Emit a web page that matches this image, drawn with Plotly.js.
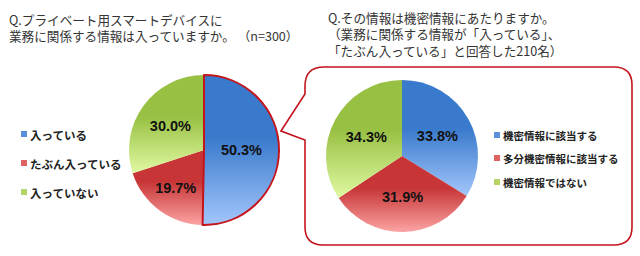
<!DOCTYPE html>
<html>
<head>
<meta charset="utf-8">
<script src="https://cdn.plot.ly/plotly-3.0.1.min.js"></script>
<style>html,body{margin:0;padding:0;background:#fff;}#chart{width:640px;height:256px;}</style>
</head>
<body>
<div id="chart"></div>
<script>
// ---- data ----
const leftLabels = ['入っている', 'たぶん入っている', '入っていない'];
const leftValues = [50.3, 19.7, 30.0];
const rightLabels = ['機密情報に該当する', '多分機密情報に該当する', '機密情報ではない'];
const rightValues = [33.8, 31.9, 34.3];
const leftTitle = ['Q.プライベート用スマートデバイスに', '業務に関係する情報は入っていますか。 （n=300）'];
const rightTitle = ['Q.その情報は機密情報にあたりますか。', '（業務に関係する情報が「入っている」、', '「たぶん入っている」と回答した210名）'];

// ---- styling ----
const W = 640, H = 256;
const sliceColors = ['#5a8fdc', '#de6262', '#b5d465'];
const gradStops = [['#3a7acc', '#a3c6fb'], ['#c73536', '#fca3a3'], ['#98c043', '#e0f9a2']];
const px = x => x / W;
const py = y => 1 - y / H;
const pt = (x, y) => px(x) + ',' + py(y);
function domainFor(cx, cy, r) {
  return { x: [px(cx - r), px(cx + r)], y: [py(cy + r), py(cy - r)] };
}

const pieCommon = {
  type: 'pie', sort: false, direction: 'clockwise', rotation: 0,
  textinfo: 'text', texttemplate: '%{value:.1f}%', textposition: 'inside',
  insidetextorientation: 'horizontal', showlegend: false, hoverinfo: 'none',
  textfont: { family: 'Liberation Sans, Arial, sans-serif', size: 14.5, color: '#111', weight: 'bold' }
};

const traces = [
  Object.assign({}, pieCommon, {
    labels: leftLabels, values: leftValues, domain: domainFor(204, 150, 75),
    marker: { colors: sliceColors, line: { color: ['#c4141c', 'rgba(0,0,0,0)', 'rgba(0,0,0,0)'], width: [2, 0, 0] } }
  }),
  Object.assign({}, pieCommon, {
    labels: rightLabels, values: rightValues, domain: domainFor(402, 156, 76),
    marker: { colors: sliceColors, line: { width: 0 } }
  })
];

const annotations = [];
const shapes = [];
const cjk = '"Noto Sans CJK JP", sans-serif';

annotations.push({
  xref: 'paper', yref: 'paper', x: px(7), y: py(8), xanchor: 'left', yanchor: 'top', align: 'left',
  text: leftTitle.join('<br>'), showarrow: false, font: { family: cjk, size: 12.6, color: '#333' }
});
annotations.push({
  xref: 'paper', yref: 'paper', x: px(326), y: py(6), xanchor: 'left', yanchor: 'top', align: 'left',
  text: rightTitle.join('<br>'), showarrow: false, font: { family: cjk, size: 12.6, color: '#333' }
});

function addLegend(labels, x0, ys, fsize) {
  labels.forEach((t, i) => {
    shapes.push({ type: 'rect', xref: 'paper', yref: 'paper',
      x0: px(x0), x1: px(x0 + 6), y0: py(ys[i] + 3), y1: py(ys[i] - 3),
      fillcolor: sliceColors[i], line: { width: 0 } });
    annotations.push({ xref: 'paper', yref: 'paper', x: px(x0 + 7), y: py(ys[i] + 0.5),
      xanchor: 'left', yanchor: 'middle', showarrow: false,
      text: '<b>' + t + '</b>', font: { family: cjk, size: fsize, color: '#222' } });
  });
}
addLegend(leftLabels, 21, [134, 163, 192], 11.5);
addLegend(rightLabels, 494, [135, 158, 182], 10.5);

// speech bubble
const bubble = 'M' + pt(281, 131) + ' L' + pt(305, 94) + ' L' + pt(305, 86) +
  ' Q' + pt(305, 67) + ' ' + pt(324, 67) + ' L' + pt(614, 67) +
  ' Q' + pt(632, 67) + ' ' + pt(632, 85) + ' L' + pt(632, 227) +
  ' Q' + pt(632, 245) + ' ' + pt(614, 245) + ' L' + pt(323, 245) +
  ' Q' + pt(305, 245) + ' ' + pt(305, 227) + ' L' + pt(305, 140) + ' Z';
shapes.push({ type: 'path', xref: 'paper', yref: 'paper', path: bubble,
  line: { color: '#c4141c', width: 1.6 }, fillcolor: 'rgba(0,0,0,0)', layer: 'below' });

const layout = {
  width: W, height: H, margin: { l: 0, r: 0, t: 0, b: 0 },
  paper_bgcolor: '#fff', plot_bgcolor: '#fff', showlegend: false,
  annotations: annotations, shapes: shapes
};

Plotly.newPlot('chart', traces, layout, { displayModeBar: false, staticPlot: true }).then(gd => {
  // add vertical gradients to slices
  const svg = gd.querySelector('svg.main-svg');
  let defs = svg.querySelector('defs');
  const NS = 'http://www.w3.org/2000/svg';
  gradStops.forEach((s, i) => {
    const g = document.createElementNS(NS, 'linearGradient');
    g.setAttribute('id', 'pgrad' + i);
    g.setAttribute('x1', '0'); g.setAttribute('y1', '0');
    g.setAttribute('x2', '0'); g.setAttribute('y2', '1');
    [[0, s[0]], [0.42, s[0]], [1, s[1]]].forEach(([o, c]) => {
      const st = document.createElementNS(NS, 'stop');
      st.setAttribute('offset', o); st.setAttribute('stop-color', c);
      g.appendChild(st);
    });
    defs.appendChild(g);
  });
  const pieTraces = gd.querySelectorAll('.pielayer g.trace');
  pieTraces.forEach((tr, ti) => {
    const slices = tr.querySelectorAll('g.slice');
    slices.forEach((sl, i) => {
      const p = sl.querySelector('path.surface');
      if (p) p.style.fill = 'url(#pgrad' + i + ')';
    });
    if (ti === 0 && slices[0]) tr.appendChild(slices[0]);
  });
});
</script>
</body>
</html>
